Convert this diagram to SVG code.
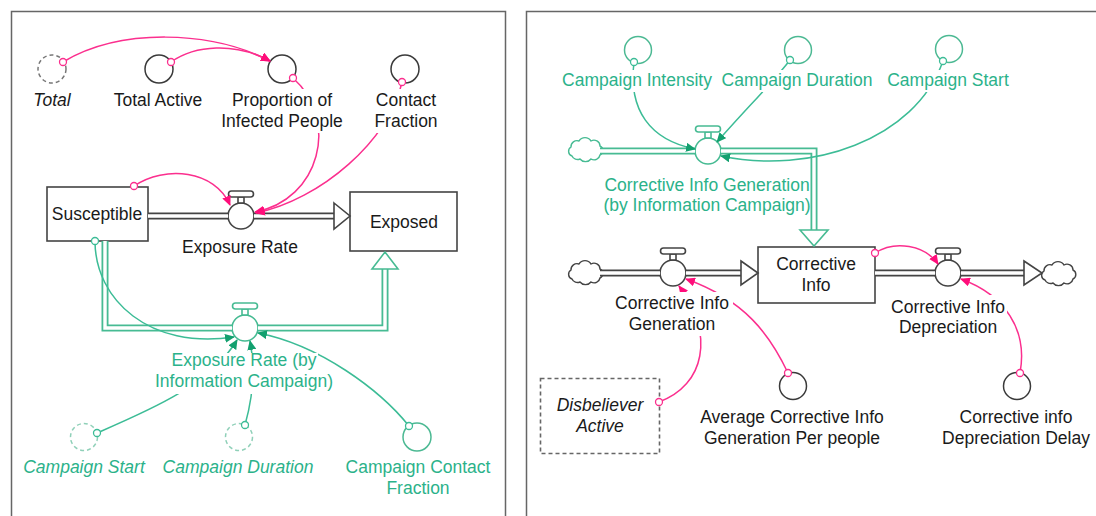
<svg xmlns="http://www.w3.org/2000/svg" width="1096" height="516" viewBox="0 0 1096 516">
  <style>
    text { font-family: "Liberation Sans", Arial, sans-serif; text-anchor: middle; fill: #1a1a1a; font-size: 17.5px; }
    text.g { fill: #2bb28a; }
    text.it { font-style: italic; }
    .panel { fill: none; stroke: #666; stroke-width: 1.5; }
    .aux { fill: #fff; stroke: #3a3a3a; stroke-width: 1.5; }
    .aux.g { stroke: #4cb993; }
    .aux.dash { stroke: #777; stroke-dasharray: 4 3; }
    .aux.g.dash { stroke: #8fd0b8; }
    .stock { fill: #fff; stroke: #444; stroke-width: 1.6; }
    .stock.dash { stroke: #666; stroke-dasharray: 4 3; }
    .vk { fill: #fff; stroke: #444; stroke-width: 1.6; }
    .vg { fill: #fff; stroke: #47bb93; stroke-width: 1.6; }
    .cl { fill: #fff; stroke: #444; stroke-width: 1.4; }
    .clg { fill: #fff; stroke: #47bb93; stroke-width: 1.4; }
    .pipeO { fill: none; stroke: #444; stroke-width: 7; stroke-linejoin: miter; }
    .pipeO.g { stroke: #47bb93; }
    .pipeI { fill: none; stroke: #fff; stroke-width: 3.4; stroke-linejoin: miter; }
    .head { fill: #fff; stroke: #444; stroke-width: 1.6; stroke-linejoin: miter; }
    .head.g { stroke: #47bb93; }
    .link { fill: none; stroke-width: 1.5; }
    .pk { stroke: #fb2f8e; }
    .gn { stroke: #3cbc96; }
    .org { fill: #fff; stroke-width: 1.3; }
  </style>
  <defs>
    <g id="valve">
      <circle cx="0" cy="0" r="13"/>
      <rect x="-3" y="-19" width="6" height="6"/>
      <rect x="-12.5" y="-25" width="25" height="6" rx="3"/>
    </g>
    <path id="cloud" d="M-14,6 a5,5 0 0 1 -1,-9 a6,6 0 0 1 8,-6 a7,7 0 0 1 12,0 a6,6 0 0 1 9,5 a5,5 0 0 1 0,9 a6,6 0 0 1 -9,4 a7,7 0 0 1 -11,0 a6,6 0 0 1 -8,-3 z"/>
    <marker id="ahP" viewBox="0 0 10 9" refX="9" refY="4.5" markerWidth="10" markerHeight="9" markerUnits="userSpaceOnUse" orient="auto">
      <path d="M0,0 L10,4.5 L0,9 z" fill="#ff0d7a"/>
    </marker>
    <marker id="ahG" viewBox="0 0 10 9" refX="9" refY="4.5" markerWidth="10" markerHeight="9" markerUnits="userSpaceOnUse" orient="auto">
      <path d="M0,0 L10,4.5 L0,9 z" fill="#13a06f"/>
    </marker>
    <!-- links pass behind label text: cut them out there -->
    <mask id="labelGaps" maskUnits="userSpaceOnUse" x="0" y="0" width="1096" height="516">
      <rect x="0" y="0" width="1096" height="516" fill="#fff"/>
      <rect x="220" y="89" width="125" height="44" fill="#000"/>
      <rect x="370" y="89" width="72" height="44" fill="#000"/>
      <rect x="170" y="353" width="148" height="18" fill="#000"/>
      <rect x="150" y="371" width="188" height="23" fill="#000"/>
      <rect x="558" y="70" width="158" height="22" fill="#000"/>
      <rect x="720" y="70" width="155" height="22" fill="#000"/>
      <rect x="884" y="70" width="129" height="22" fill="#000"/>
      <rect x="612" y="292" width="121" height="44" fill="#000"/>
      <rect x="886" y="295" width="121" height="42" fill="#000"/>
    </mask>
  </defs>

  <rect width="1096" height="516" fill="#fff"/>

  <!-- panel frames -->
  <path class="panel" d="M11.5,520 V11.5 H505.5 V520"/>
  <path class="panel" d="M1100,11.5 H526.5 V520"/>

  <!-- ===== left model ===== -->
  <g id="left-model">
    <g id="total"><circle class="aux dash" cx="52" cy="69" r="14"/><text class="it" x="52" y="106">Total</text></g>
    <g id="total-active"><circle class="aux" cx="159" cy="69" r="14"/><text x="158" y="106">Total Active</text></g>
    <g id="proportion-infected"><circle class="aux" cx="282" cy="69" r="14"/><text x="282" y="106">Proportion of</text><text x="282" y="127">Infected People</text></g>
    <g id="contact-fraction"><circle class="aux" cx="405" cy="69" r="14"/><text x="406" y="106">Contact</text><text x="406" y="127">Fraction</text></g>
    <g id="susceptible"><rect class="stock" x="47" y="187" width="101" height="54"/><text x="97" y="220">Susceptible</text></g>
    <g id="exposed"><rect class="stock" x="350" y="192" width="107" height="59"/><text x="404" y="228">Exposed</text></g>
    <g id="exposure-rate"><use href="#valve" x="241" y="216" class="vk"/><text x="240" y="253">Exposure Rate</text></g>
    <g id="exposure-rate-campaign"><use href="#valve" x="245" y="328" class="vg"/><text class="g" x="244" y="366">Exposure Rate (by</text><text class="g" x="244" y="387">Information Campaign)</text></g>
    <g id="campaign-start-l"><circle class="aux g dash" cx="84" cy="437" r="13.5"/><text class="g it" x="84" y="473">Campaign Start</text></g>
    <g id="campaign-duration-l"><circle class="aux g dash" cx="239" cy="437" r="13.5"/><text class="g it" x="238" y="473">Campaign Duration</text></g>
    <g id="campaign-contact-fraction"><circle class="aux g" cx="417" cy="437" r="14"/><text class="g" x="418" y="473">Campaign Contact</text><text class="g" x="418" y="494">Fraction</text></g>
  </g>

  <!-- ===== right model ===== -->
  <g id="right-model">
    <g id="campaign-intensity"><circle class="aux g" cx="638" cy="50" r="13.5"/><text class="g" x="637" y="86">Campaign Intensity</text></g>
    <g id="campaign-duration-r"><circle class="aux g" cx="798" cy="50" r="13.5"/><text class="g" x="797" y="86">Campaign Duration</text></g>
    <g id="campaign-start-r"><circle class="aux g" cx="949" cy="49" r="13.5"/><text class="g" x="948" y="86">Campaign Start</text></g>
    <g id="source-campaign"><use href="#cloud" x="586" y="150" class="clg"/></g>
    <g id="corrective-gen-campaign"><use href="#valve" x="708" y="151" class="vg"/><text class="g" x="707" y="191">Corrective Info Generation</text><text class="g" x="707" y="211">(by Information Campaign)</text></g>
    <g id="corrective-info"><rect class="stock" x="758" y="247" width="117" height="56"/><text x="816" y="270">Corrective</text><text x="816" y="291">Info</text></g>
    <g id="source-gen"><use href="#cloud" x="586" y="273" class="cl"/></g>
    <g id="corrective-gen"><use href="#valve" x="673" y="273" class="vk"/><text x="672" y="309">Corrective Info</text><text x="672" y="330">Generation</text></g>
    <g id="corrective-dep"><use href="#valve" x="948" y="273" class="vk"/><text x="948" y="313">Corrective Info</text><text x="948" y="333">Depreciation</text></g>
    <g id="sink-dep"><use href="#cloud" x="1059" y="274" class="cl"/></g>
    <g id="disbeliever-active"><rect class="stock dash" x="540.5" y="378.5" width="119" height="75"/><text class="it" x="600" y="411">Disbeliever</text><text class="it" x="600" y="432">Active</text></g>
    <g id="avg-gen-per-people"><circle class="aux" cx="793" cy="386" r="13.5"/><text x="792" y="423">Average Corrective Info</text><text x="792" y="444">Generation Per people</text></g>
    <g id="dep-delay"><circle class="aux" cx="1017" cy="386" r="13.5"/><text x="1016" y="423">Corrective info</text><text x="1016" y="444">Depreciation Delay</text></g>
  </g>

  <!-- ===== connectors ===== -->
  <g id="connectors">
    <!-- flows (double-line pipes) -->
    <g id="flows">
      <path class="pipeO" d="M148,216 H228 M254,216 H334"/>
      <path class="pipeI" d="M148,216 H228 M254,216 H334"/>
      <polygon class="head" points="334,203 350,216 334,229"/>

      <path class="pipeO g" d="M105,241 V328 H232 M258,328 H385 V269"/>
      <path class="pipeI" d="M105,241 V328 H232 M258,328 H385 V269"/>
      <polygon class="head g" points="372,269 385,252 398,269"/>

      <path class="pipeO g" d="M600,151 H695 M721,151 H814 V230"/>
      <path class="pipeI" d="M600,151 H695 M721,151 H814 V230"/>
      <polygon class="head g" points="800,230 814,246 828,230"/>

      <path class="pipeO" d="M600,273 H660 M686,273 H741"/>
      <path class="pipeI" d="M600,273 H660 M686,273 H741"/>
      <polygon class="head" points="741,261 758,273 741,285"/>

      <path class="pipeO" d="M875,273 H935 M961,273 H1024"/>
      <path class="pipeI" d="M875,273 H935 M961,273 H1024"/>
      <polygon class="head" points="1024,261 1042,273 1024,285"/>
    </g>

    <!-- information links -->
    <g id="links" mask="url(#labelGaps)">
      <path class="link pk" marker-end="url(#ahP)" d="M63,62 C120,28 210,30 270,61"/>
      <path class="link pk" marker-end="url(#ahP)" d="M171,62 C195,45 235,42 270,61"/>
      <path class="link pk" marker-end="url(#ahP)" d="M293,78 C340,120 320,200 255,212"/>
      <path class="link pk" marker-end="url(#ahP)" d="M402,82 C390,140 320,200 256,213"/>
      <path class="link pk" marker-end="url(#ahP)" d="M134,186 C165,165 215,170 230,205"/>

      <path class="link gn" marker-end="url(#ahG)" d="M95,241 C95,300 150,350 234,337"/>
      <path class="link gn" marker-end="url(#ahG)" d="M97,433 C150,410 210,385 237,340"/>
      <path class="link gn" marker-end="url(#ahG)" d="M245,425 C252,400 256,370 250,341"/>
      <path class="link gn" marker-end="url(#ahG)" d="M409,426 C380,390 320,345 258,333"/>

      <path class="link gn" marker-end="url(#ahG)" d="M634,62 C628,110 650,140 695,149"/>
      <path class="link gn" marker-end="url(#ahG)" d="M790,60 C775,80 745,110 717,142"/>
      <path class="link gn" marker-end="url(#ahG)" d="M943,61 C915,140 810,175 721,156"/>

      <path class="link pk" marker-end="url(#ahP)" d="M875,253 C895,240 925,245 938,264"/>
      <path class="link pk" marker-end="url(#ahP)" d="M1020,373 C1028,330 1005,295 961,279"/>
      <path class="link pk" marker-end="url(#ahP)" d="M788,373 C770,335 745,300 686,279"/>
      <path class="link pk" marker-end="url(#ahP)" d="M659,402 C705,385 715,335 679,286"/>
    </g>

    <!-- link origins -->
    <g id="link-origins">
      <circle class="org pk" cx="63" cy="62" r="3.5"/>
      <circle class="org pk" cx="171" cy="62" r="3.5"/>
      <circle class="org pk" cx="293" cy="78" r="3.5"/>
      <circle class="org pk" cx="402" cy="82" r="3.5"/>
      <circle class="org pk" cx="134" cy="186" r="3.5"/>
      <circle class="org gn" cx="95" cy="241" r="3.5"/>
      <circle class="org gn" cx="97" cy="433" r="3.5"/>
      <circle class="org gn" cx="245" cy="425" r="3.5"/>
      <circle class="org gn" cx="409" cy="426" r="3.5"/>
      <circle class="org gn" cx="634" cy="62" r="3.5"/>
      <circle class="org gn" cx="790" cy="60" r="3.5"/>
      <circle class="org gn" cx="943" cy="61" r="3.5"/>
      <circle class="org pk" cx="875" cy="253" r="3.5"/>
      <circle class="org pk" cx="1020" cy="373" r="3.5"/>
      <circle class="org pk" cx="788" cy="373" r="3.5"/>
      <circle class="org pk" cx="659" cy="402" r="3.5"/>
    </g>
  </g>
</svg>
